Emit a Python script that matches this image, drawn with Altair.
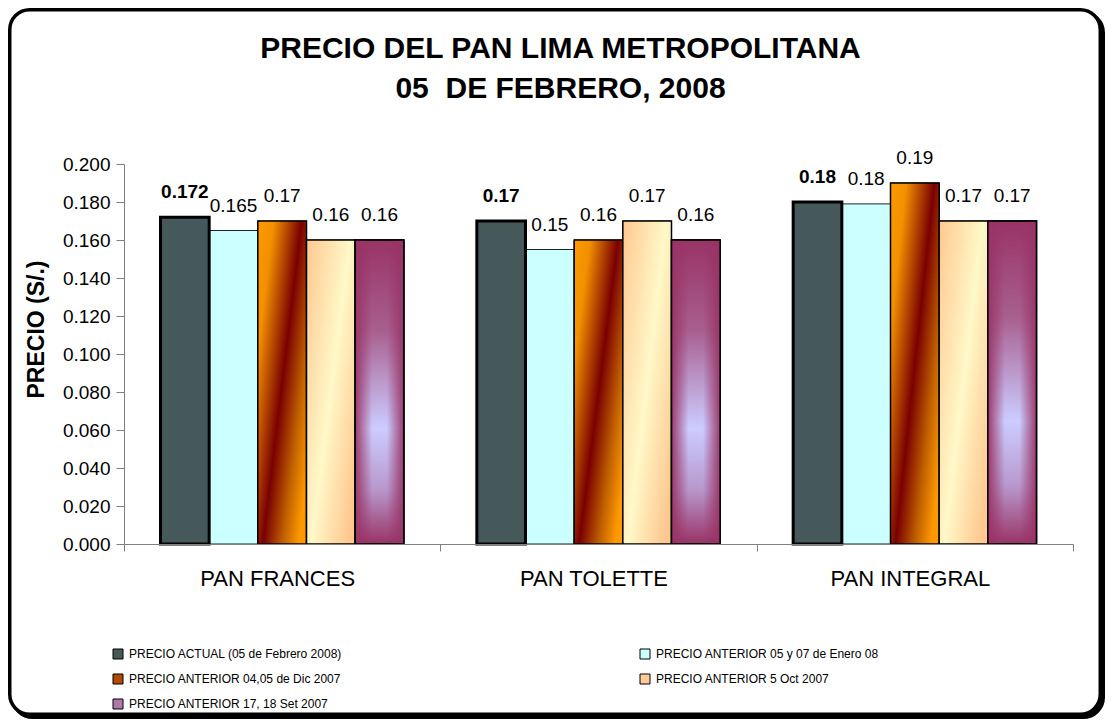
import altair as alt
import pandas as pd

categories = ["PAN FRANCES", "PAN TOLETTE", "PAN INTEGRAL"]
series = [
    "PRECIO ACTUAL (05 de Febrero 2008)",
    "PRECIO ANTERIOR 05 y 07 de Enero 08",
    "PRECIO ANTERIOR 04,05 de Dic 2007",
    "PRECIO ANTERIOR 5 Oct 2007",
    "PRECIO ANTERIOR 17, 18 Set 2007",
]
actual = [0.172, 0.170, 0.180]
enero = [0.165, 0.155, 0.179]
dic = [0.170, 0.160, 0.190]
octubre = [0.160, 0.170, 0.170]
setiembre = [0.160, 0.160, 0.170]
label_actual = ["0.172", "0.17", "0.18"]
label_enero = ["0.165", "0.15", "0.18"]
label_dic = ["0.17", "0.16", "0.19"]
label_oct = ["0.16", "0.17", "0.17"]
label_set = ["0.16", "0.16", "0.17"]
y_ticks = [0.0, 0.02, 0.04, 0.06, 0.08, 0.10, 0.12, 0.14, 0.16, 0.18, 0.20]
legend_colors = ["#46595a", "#ccffff", "#b34a00", "#ffcc99", "#b07aa8"]

FONT = "Liberation Sans"

rows = []
for s, vals, labs in zip(
    series,
    [actual, enero, dic, octubre, setiembre],
    [label_actual, label_enero, label_dic, label_oct, label_set],
):
    for c, v, l in zip(categories, vals, labs):
        rows.append({"cat": c, "series": s, "value": v, "label": l})
df = pd.DataFrame(rows)

# legend lays entries out column by column: order them so rows read like the reference
legend_order = [series[0], series[2], series[4], series[1], series[3]]
legend_range = [legend_colors[series.index(s)] for s in legend_order]

W, H = 949, 380

x_enc = alt.X(
    "cat:N",
    sort=categories,
    scale=alt.Scale(domain=categories, paddingInner=0, paddingOuter=0),
    axis=alt.Axis(
        title=None, labelAngle=0, tickBand="extent", labelFontSize=22,
        labelFont=FONT, labelColor="black", labelPadding=17, labelOffset=-5,
        tickSize=7, tickColor="#808080", domainColor="#808080", zindex=1,
    ),
)
xo_enc = alt.XOffset(
    "series:N", sort=series,
    scale=alt.Scale(domain=series, paddingInner=0, paddingOuter=0.75),
)
y_enc = alt.Y(
    "value:Q",
    scale=alt.Scale(domain=[0, 0.2], nice=False),
    axis=alt.Axis(
        values=y_ticks, format=".3f", title="PRECIO (S/.)", grid=False,
        labelFontSize=19, labelFont=FONT, labelColor="black", labelPadding=6,
        tickSize=8, tickColor="#808080", domainColor="#808080",
        titleFont=FONT, titleFontSize=23, titleFontWeight="bold",
        titleColor="black", titlePadding=14, titleY=165, zindex=1,
    ),
)

base = alt.Chart(df)

frame_data = alt.Data(values=[{"k": 1}])
shadow = alt.Chart(frame_data).mark_rect(
    cornerRadius=20, fill="black", stroke="black", strokeWidth=3.5
).encode(
    x=alt.value(-111.25), x2=alt.value(979.25),
    y=alt.value(-151.25), y2=alt.value(553.25),
)
frame = alt.Chart(frame_data).mark_rect(
    cornerRadius=20, fill="white", stroke="black", strokeWidth=3.5
).encode(
    x=alt.value(-114.25), x2=alt.value(976.25),
    y=alt.value(-154.25), y2=alt.value(550.25),
)

bars = base.mark_bar(stroke="#222222", strokeWidth=1).encode(
    x=x_enc, xOffset=xo_enc, y=y_enc,
    color=alt.Color(
        "series:N",
        scale=alt.Scale(domain=legend_order, range=legend_range),
        legend=alt.Legend(
            title=None, orient="none", legendX=-12, legendY=484, columns=2,
            columnPadding=295, rowPadding=11, symbolType="square",
            symbolSize=100, symbolStrokeColor="black", symbolStrokeWidth=1,
            labelFont=FONT, labelFontSize=12, labelColor="black",
            labelOffset=5, labelLimit=400,
        ),
    ),
)

def series_layer(idx, **mark_kw):
    return base.transform_filter(alt.datum.series == series[idx]).mark_bar(**mark_kw).encode(
        x=x_enc, xOffset=xo_enc, y=y_enc
    )

def grad(stops, x2=1, y2=0):
    return alt.LinearGradient(
        gradient="linear",
        stops=[alt.GradientStop(offset=o, color=c) for o, c in stops],
        x1=0, y1=0, x2=x2, y2=y2,
    )

l_actual = series_layer(0, fill="#46595a", stroke="black", strokeWidth=3)
l_dic = series_layer(
    2,
    fill=grad([(0, "#ff9900"), (0.2, "#f29000"), (0.55, "#7a0000"), (0.8, "#c06000"), (1, "#ff9900")], 1, 0.8),
    stroke="black", strokeWidth=1.5,
)
l_oct = series_layer(
    3,
    fill=grad([(0, "#ffc890"), (0.55, "#fff8c8"), (1, "#ffc890")], 1, 0.8),
    stroke="black", strokeWidth=1.5,
)
l_set = series_layer(
    4,
    fill=grad([(0, "#993366"), (0.3, "#a86090"), (0.62, "#ccccff"), (0.82, "#b898cc"), (1, "#993366")], 0, 1),
    stroke="black", strokeWidth=1.5,
)
l_set_edge = series_layer(
    4,
    fill=grad([(0, "rgba(153,51,102,0.95)"), (0.35, "rgba(153,51,102,0)"),
               (0.65, "rgba(153,51,102,0)"), (1, "rgba(153,51,102,0.95)")], 1, 0),
    stroke="black", strokeWidth=1.5,
)

text_bold = base.transform_filter(alt.datum.series == series[0]).mark_text(
    font=FONT, fontSize=19, fontWeight="bold", baseline="middle", dy=-25, color="black"
).encode(x=x_enc, xOffset=xo_enc, y=y_enc, text="label:N")
text_norm = base.transform_filter(alt.datum.series != series[0]).mark_text(
    font=FONT, fontSize=19, baseline="middle", dy=-25, color="black"
).encode(x=x_enc, xOffset=xo_enc, y=y_enc, text="label:N")

chart = alt.layer(
    shadow, frame, bars, l_actual, l_dic, l_oct, l_set, l_set_edge, text_bold, text_norm
).properties(
    width=W, height=H, padding=0,
    title=alt.TitleParams(
        text=["PRECIO DEL PAN LIMA METROPOLITANA", "05\u00a0 DE FEBRERO, 2008"],
        font=FONT, fontSize=30, fontWeight="bold", color="black",
        anchor="middle", dx=-38, lineHeight=40, offset=-96,
    ),
).configure_view(stroke=None).configure(background="white")

chart.save("out.html", embed_options={"renderer": "svg", "actions": False})
